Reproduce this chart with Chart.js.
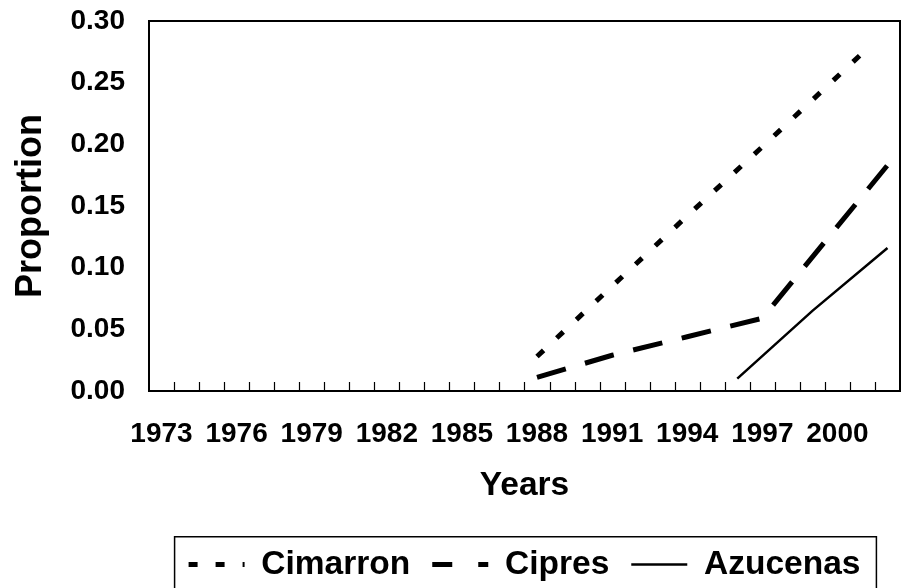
<!DOCTYPE html>
<html>
<head>
<meta charset="utf-8">
<script src="https://cdn.jsdelivr.net/npm/chart.js@4.4.1/dist/chart.umd.min.js"></script>
<style>
  html, body { margin: 0; padding: 0; background: #fff; }
  #wrap { width: 909px; height: 588px; }
</style>
</head>
<body>
<div id="wrap"><canvas id="chart"></canvas></div>
<script>
// one category per year, labels only every third year
const years = ['1973','1974','1975','1976','1977','1978','1979','1980','1981','1982',
               '1983','1984','1985','1986','1987','1988','1989','1990','1991','1992',
               '1993','1994','1995','1996','1997','1998','1999','2000','2001','2002'];
const shownYears = ['1973','1976','1979','1982','1985','1988','1991','1994','1997','2000'];

// values, null where a series has no point
const cimarron = {1988: 0.028, 1991: 0.085, 1994: 0.142, 1997: 0.198, 2001: 0.274};
const cipres   = {1988: 0.011, 1991: 0.029, 1994: 0.044, 1997: 0.059, 2002: 0.183};
const azucenas = {1996: 0.010, 1999: 0.065, 2002: 0.116};

function toSeries(obj) {
  return years.map(y => (obj[y] === undefined ? null : obj[y]));
}

const FONT = "'Liberation Sans', Arial, sans-serif";
Chart.defaults.color = '#000';
Chart.defaults.font.family = FONT;

// legend samples are drawn a bit differently from the plotted lines
const legendDash = { Cimarron: [9, 18], Cipres: [20, 26], Azucenas: [] };

// frame round the plot, inner tick marks on the x axis, box round the legend
const framePlugin = {
  id: 'frame',
  afterDraw(chart) {
    const ctx = chart.ctx;
    const a = chart.chartArea;
    ctx.save();
    ctx.strokeStyle = '#000';
    ctx.lineWidth = 2;
    ctx.strokeRect(a.left, a.top, a.right - a.left, a.bottom - a.top);

    ctx.lineWidth = 1.2;
    const n = years.length;
    const step = (a.right - a.left) / n;
    ctx.beginPath();
    for (let i = 1; i < n; i++) {
      const x = Math.round(a.left + i * step) + 0.5;
      ctx.moveTo(x, a.bottom);
      ctx.lineTo(x, a.bottom - 9);
    }
    ctx.stroke();

    const lg = chart.legend;
    if (lg && lg.legendHitBoxes.length) {
      const first = lg.legendHitBoxes[0];
      const last = lg.legendHitBoxes[lg.legendHitBoxes.length - 1];
      const left = first.left - 14;
      const right = last.left + last.width + 16;
      ctx.lineWidth = 1.5;
      ctx.strokeRect(left, lg.top + 11, right - left, chart.height);
    }
    ctx.restore();
  }
};

new Chart(document.getElementById('chart'), {
  type: 'line',
  data: {
    labels: years,
    datasets: [
      {
        label: 'Cimarron',
        data: toSeries(cimarron),
        borderColor: '#000',
        backgroundColor: '#000',
        borderWidth: 5,
        borderDash: [9, 18],
        spanGaps: true,
        pointRadius: 0,
        pointStyle: 'line'
      },
      {
        label: 'Cipres',
        data: toSeries(cipres),
        borderColor: '#000',
        backgroundColor: '#000',
        borderWidth: 5,
        borderDash: [30, 20],
        spanGaps: true,
        pointRadius: 0,
        pointStyle: 'line'
      },
      {
        label: 'Azucenas',
        data: toSeries(azucenas),
        borderColor: '#000',
        backgroundColor: '#000',
        borderWidth: 2.5,
        spanGaps: true,
        pointRadius: 0,
        pointStyle: 'line'
      }
    ]
  },
  options: {
    responsive: true,
    maintainAspectRatio: false,
    animation: false,
    layout: { padding: { top: 21, right: 9, bottom: -3.25, left: 0 } },
    plugins: {
      tooltip: { enabled: false },
      legend: {
        position: 'bottom',
        fullSize: false,
        labels: {
          usePointStyle: true,
          pointStyleWidth: 56,
          padding: 22,
          color: '#000',
          font: { size: 33.5, weight: 'bold' },
          generateLabels(chart) {
            const items = Chart.defaults.plugins.legend.labels.generateLabels(chart);
            items.forEach(it => {
              const ds = chart.data.datasets[it.datasetIndex];
              it.lineDash = legendDash[ds.label];
              it.lineWidth = ds.borderWidth;
            });
            return items;
          }
        }
      }
    },
    scales: {
      x: {
        type: 'category',
        offset: true,
        border: { display: false },
        grid: { display: false, drawTicks: true, tickLength: 24 },
        ticks: {
          autoSkip: false,
          maxRotation: 0,
          padding: 2,
          font: { size: 28, weight: 'bold' },
          callback: function (value) {
            const lab = this.getLabelForValue(value);
            return shownYears.includes(lab) ? lab : '';
          }
        },
        title: {
          display: true,
          text: 'Years',
          font: { size: 33.5, weight: 'bold' },
          padding: { top: 12.8, bottom: 20.15 }
        }
      },
      y: {
        min: 0,
        max: 0.3,
        border: { display: false },
        grid: { display: false, drawTicks: true, tickLength: 22 },
        ticks: {
          stepSize: 0.05,
          padding: 2,
          font: { size: 28, weight: 'bold' },
          callback: v => v.toFixed(2)
        },
        title: {
          display: true,
          text: 'Proportion',
          font: { size: 36, weight: 'bold' },
          padding: { top: 9.4, bottom: 15.9 }
        }
      }
    }
  },
  plugins: [framePlugin]
});
</script>
</body>
</html>
